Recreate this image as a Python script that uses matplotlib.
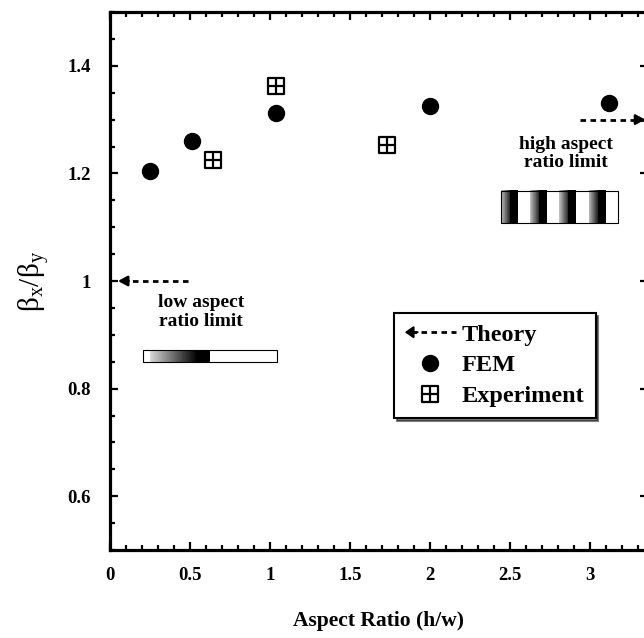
import numpy as np
import matplotlib
matplotlib.use('Agg')
import matplotlib.pyplot as plt
from matplotlib.path import Path
from matplotlib.lines import Line2D
from matplotlib.patches import FancyArrowPatch, Rectangle
from matplotlib.legend_handler import HandlerBase
from matplotlib.ticker import MultipleLocator, FuncFormatter

# ---- data ----
fem_x = [0.25, 0.51, 1.04, 2.0, 3.12]
fem_y = [1.204, 1.261, 1.312, 1.326, 1.330]
exp_x = [0.645, 1.04, 1.73]
exp_y = [1.224, 1.363, 1.252]
theory_low_x = [0.49, 0.05]      # dashed arrow toward low aspect-ratio limit
theory_low_y = [1.0, 1.0]
theory_high_x = [2.94, 3.345]    # dashed arrow toward high aspect-ratio limit
theory_high_y = [1.30, 1.30]
x_ticks = [0, 0.5, 1, 1.5, 2, 2.5, 3]
y_ticks = [0.6, 0.8, 1.0, 1.2, 1.4]

SERIF = ['Liberation Serif', 'DejaVu Serif']
plt.rcParams['font.family'] = SERIF

fig = plt.figure(figsize=(6.44, 6.38), dpi=100)
ax = fig.add_axes([110/644, 88/638, 537.6/644, 538/638])

# cross-square marker
verts = [(-1, -1), (1, -1), (1, 1), (-1, 1), (-1, -1),
         (0, -1), (0, 1), (-1, 0), (1, 0)]
codes = [Path.MOVETO, Path.LINETO, Path.LINETO, Path.LINETO, Path.CLOSEPOLY,
         Path.MOVETO, Path.LINETO, Path.MOVETO, Path.LINETO]
cross_sq = Path(verts, codes)

dash = (0, (2.0, 1.6))


def theory_arrow(xs, ys):
    ln, = ax.plot(xs, ys, ls=dash, color='black', lw=2, clip_on=False, zorder=3)
    d = (xs[0] - xs[1]) * 0.15
    ax.annotate('', xy=(xs[1], ys[1]), xytext=(xs[1] + d, ys[1]),
                arrowprops=dict(arrowstyle='-|>,head_length=0.55,head_width=0.3',
                                color='black', lw=1.8, shrinkA=0, shrinkB=0),
                annotation_clip=False, zorder=4)
    return ln


th_line = theory_arrow(theory_low_x, theory_low_y)
theory_arrow(theory_high_x, theory_high_y)
th_line.set_label('Theory')

ax.plot(fem_x, fem_y, ls='none', marker='o', ms=11.5, color='black', label='FEM', zorder=5)
ax.plot(exp_x, exp_y, ls='none', marker=cross_sq, ms=11, mfc='none', mec='black',
        mew=1.6, label='Experiment', zorder=5)

# ---- inset stripe pictures ----
u = np.linspace(0, 1, 400)
low = np.ones_like(u)
m = (u >= 0.05) & (u < 0.4)
low[m] = 0.85 - (u[m] - 0.05) / 0.35 * 0.85
low[(u >= 0.4) & (u < 0.5)] = 0.0
p = (u * 4) % 1
high = np.where(p < 0.3, 0.75 - p / 0.3 * 0.6, np.where(p < 0.58, 0.0, 1.0))

low_ext = (0.206, 1.044, 0.85, 0.872)
high_ext = (2.444, 3.175, 1.107, 1.167)
for arr, ext in [(low, low_ext), (high, high_ext)]:
    ax.imshow(arr[None, :], extent=ext, aspect='auto', cmap='gray', vmin=0, vmax=1,
              interpolation='nearest', zorder=2)
    ax.add_patch(Rectangle((ext[0], ext[2]), ext[1] - ext[0], ext[3] - ext[2],
                           fill=False, ec='black', lw=0.8, zorder=3))

ax.text(0.57, 0.943, 'low aspect\nratio limit', ha='center', va='center',
        fontsize=14, fontweight='bold', linespacing=1.15)
ax.text(2.85, 1.237, 'high aspect\nratio limit', ha='center', va='center',
        fontsize=14, fontweight='bold', linespacing=1.15)

# ---- axes ----
ax.set_xlim(0, 3.36)
ax.set_ylim(0.5, 1.5)
ax.set_xticks(x_ticks)
ax.set_yticks(y_ticks)
ax.xaxis.set_minor_locator(MultipleLocator(0.1))
ax.yaxis.set_minor_locator(MultipleLocator(0.05))
fmt = FuncFormatter(lambda v, pos: ('%g' % v))
ax.xaxis.set_major_formatter(fmt)
ax.yaxis.set_major_formatter(fmt)
for s in ax.spines.values():
    s.set_linewidth(2.3)
ax.tick_params(which='both', direction='in', top=True, right=True, width=1.6)
ax.tick_params(which='major', length=6)
ax.tick_params(which='minor', length=3.5)
ax.tick_params(which='minor', right=False)
ax.tick_params(axis='x', which='major', pad=12)
ax.tick_params(axis='y', which='major', pad=14)
for lab in ax.get_xticklabels() + ax.get_yticklabels():
    lab.set_fontsize(13.5)
    lab.set_fontweight('bold')

ax.set_xlabel('Aspect Ratio (h/w)', fontsize=15.5, fontweight='bold', labelpad=20)
ax.set_ylabel(r'$\mathregular{\beta_x/\beta_y}$', fontsize=21, labelpad=11)


class ArrowHandler(HandlerBase):
    def create_artists(self, legend, orig_handle, xdescent, ydescent, width, height,
                       fontsize, trans):
        y = height / 2 - ydescent
        x0 = -xdescent
        line = Line2D([x0 + width * 0.12, x0 + width], [y, y], ls=dash, color='black',
                      lw=2, transform=trans)
        arr = FancyArrowPatch((x0 + width * 0.25, y), (x0, y),
                              arrowstyle='-|>,head_length=5,head_width=3.5',
                              mutation_scale=1, color='black', lw=1.5,
                              shrinkA=0, shrinkB=0, transform=trans)
        return [line, arr]


leg = ax.legend(handler_map={th_line: ArrowHandler()}, loc='lower left',
                bbox_to_anchor=(0.528, 0.245), borderaxespad=0, frameon=True,
                fancybox=False, edgecolor='black', framealpha=1,
                prop={'family': SERIF, 'weight': 'bold', 'size': 17.5},
                handlelength=2.1, handletextpad=0.25, labelspacing=0.36,
                borderpad=0.45, numpoints=1,
                shadow={'facecolor': 'black', 'edgecolor': 'black'})
leg.get_frame().set_linewidth(1.5)
leg.set_zorder(6)

fig.savefig('out.png', dpi=100)
